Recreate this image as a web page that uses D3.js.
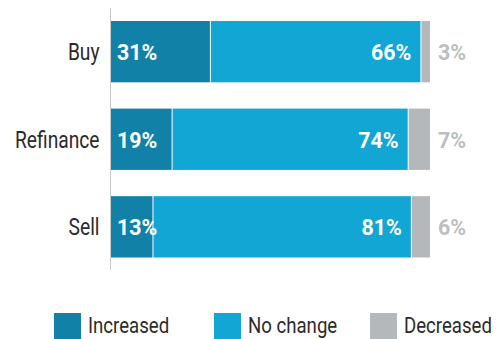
<!DOCTYPE html>
<html><head><meta charset="utf-8">
<script src="https://cdn.jsdelivr.net/npm/d3@7"></script>
<style>body{margin:0;background:#fff}svg{display:block}</style>
</head><body>
<script>
const categories = ["Buy", "Refinance", "Sell"];
const seriesNames = ["Increased", "No change", "Decreased"];
const increased = [31, 19, 13];
const noChange = [66, 74, 81];
const decreased = [3, 7, 6];
const colors = ["#1181a7", "#11a6d3", "#b4b8bb"];

const W = 496, H = 339;
const font = "Roboto, sans-serif";
const svg = d3.select("body").append("svg").attr("width", W).attr("height", H);

function ctext(sel, px, py, str, opts) {
  const t = sel.append("text")
    .attr("transform", `translate(${px},${py}) scale(${opts.sx},1)`)
    .attr("font-family", font)
    .attr("font-size", opts.size)
    .attr("font-weight", opts.weight || "normal")
    .attr("fill", opts.fill)
    .attr("text-anchor", opts.anchor || "start")
    .text(str);
  if (opts.dy) t.attr("dy", opts.dy);
  return t;
}

const x = d3.scaleLinear().domain([0, 100]).range([111, 430]);
const y = d3.scaleBand().domain(categories).range([21, 257.5]).paddingInner(0.3).paddingOuter(0);

const rows = categories.map((c, i) => ({cat: c, vals: [increased[i], noChange[i], decreased[i]]}));
const stacked = rows.map(r => {
  let acc = 0;
  return r.vals.map((v, k) => { const s = {cat: r.cat, k, v, x0: acc, x1: acc + v}; acc += v; return s; });
});

const bold = {size: 23, weight: "bold", sx: 0.93, dy: "0.36em"};
stacked.forEach(segs => {
  segs.forEach(s => {
    svg.append("rect")
      .attr("x", x(s.x0) + (s.k > 0 ? 1 : 0))
      .attr("y", y(s.cat))
      .attr("width", x(s.x1) - x(s.x0) - (s.k > 0 ? 1 : 0))
      .attr("height", y.bandwidth())
      .attr("fill", colors[s.k]);
  });
  const cy = y(segs[0].cat) + y.bandwidth() / 2;
  ctext(svg, x(segs[0].x0) + 6, cy, segs[0].v + "%", {...bold, fill: "#fff"});
  ctext(svg, x(segs[1].x1) - 9, cy, segs[1].v + "%", {...bold, fill: "#fff", anchor: "end"});
  ctext(svg, x(100) + 8, cy, segs[2].v + "%", {...bold, fill: "#bcbfc1"});
});

const yAxis = d3.axisLeft(y).tickSize(0).tickPadding(11);
const g = svg.append("g").attr("transform", "translate(110.5,0)").call(yAxis);
g.select(".domain").remove();
g.selectAll(".tick text").each(function() {
  d3.select(this).attr("transform", "scale(0.8,1)").attr("x", -11 / 0.8)
   .attr("font-family", font).attr("font-size", 24).attr("fill", "#2b2b2b").attr("dy", "0.36em");
});
svg.append("line").attr("x1", 110.5).attr("x2", 110.5).attr("y1", 8).attr("y2", 270)
  .attr("stroke", "#c8c8c8").attr("stroke-width", 1);

const legendX = [54, 214, 370];
seriesNames.forEach((n, i) => {
  svg.append("rect").attr("x", legendX[i]).attr("y", 313).attr("width", 27).attr("height", 27).attr("fill", colors[i]);
  ctext(svg, legendX[i] + 34, 333, n, {size: 23, sx: 0.81, fill: "#2b2b2b"});
});
</script>
</body></html>
